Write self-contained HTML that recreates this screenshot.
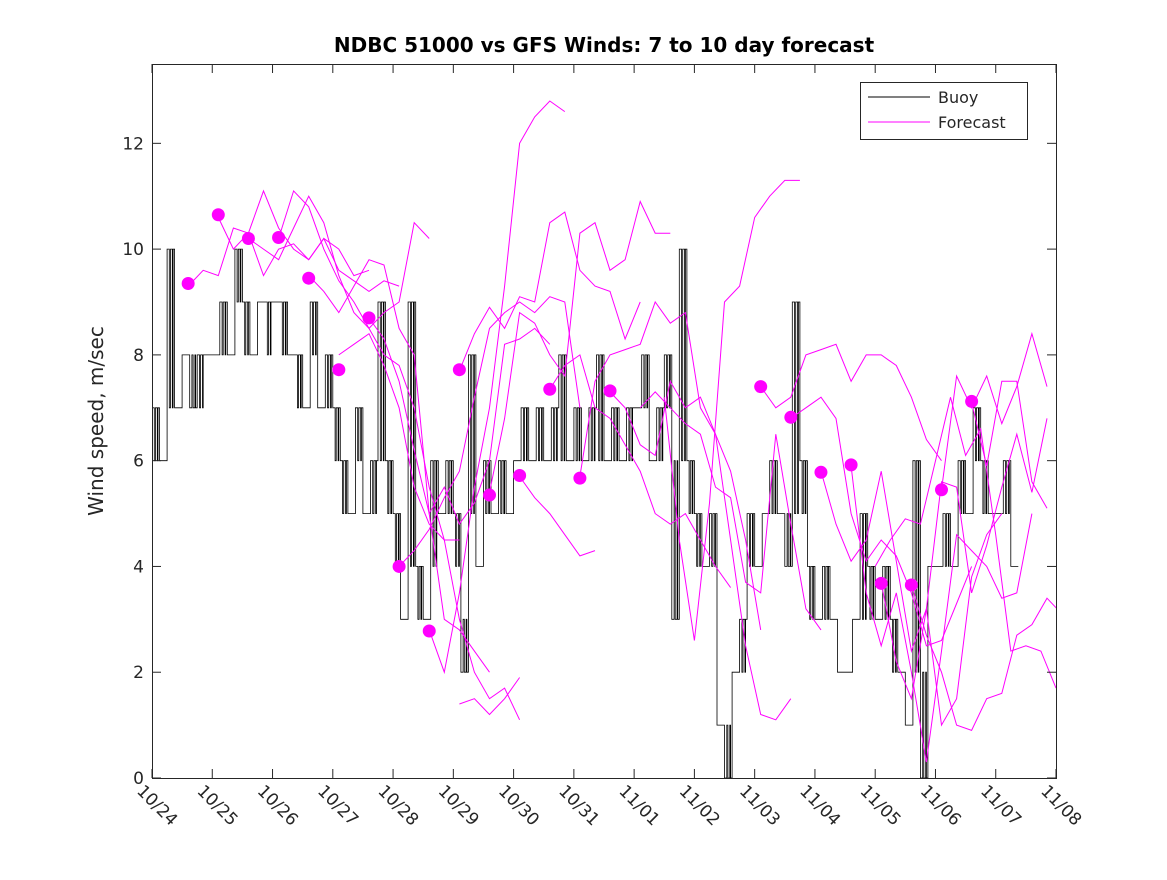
<!DOCTYPE html>
<html><head><meta charset="utf-8"><style>
html,body{margin:0;padding:0;background:#fff}
svg text{font-family:"DejaVu Sans","Liberation Sans",sans-serif;fill:#262626}
</style></head><body>
<svg id="chart" width="1167" height="875" xmlns="http://www.w3.org/2000/svg">
<defs><clipPath id="pc"><rect x="152" y="64" width="904" height="714"/></clipPath></defs>
<rect x="0" y="0" width="1167" height="875" fill="#fff"/>
<text x="604" y="52" text-anchor="middle" font-size="20" font-weight="bold" style="fill:#000">NDBC 51000 vs GFS Winds: 7 to 10 day forecast</text>
<text transform="translate(103,421) rotate(-90)" text-anchor="middle" font-size="20">Wind speed, m/sec</text>
<g id="plot" clip-path="url(#pc)"></g>
<g id="axes"></g>
<rect x="152.5" y="64.5" width="904" height="714" fill="none" stroke="#262626" stroke-width="1"/>
<g>
<rect x="860.5" y="82.5" width="167" height="57" fill="#fff" stroke="#262626"/>
<line x1="868" y1="97" x2="930" y2="97" stroke="#000"/>
<text x="938" y="103" font-size="16">Buoy</text>
<line x1="868" y1="122" x2="930" y2="122" stroke="#f0f"/>
<text x="938" y="128" font-size="16">Forecast</text>
</g>
</svg>
<script>
const xTickLabels=["10/24","10/25","10/26","10/27","10/28","10/29","10/30","10/31","11/01","11/02","11/03","11/04","11/05","11/06","11/07","11/08"];
const yTicks=[0,2,4,6,8,10,12];
const buoyStepsPerDay=8;
const buoy=[7,6,10,7,8,7,8,8, 8,9,8,10,9,8,9,9, 9,9,8,8,7,9,7,8, 7,6,5,7,5,6,9,6, 5,3,9,4,3,6,5,6, 5,2,8,4,6,5,6,5, 6,7,6,7,6,7,8,6, 7,6,7,8,6,7,6,7, 7,8,6,7,8,3,10,6, 5,4,5,1,0,2,3,5, 4,5,6,5,4,9,6,4, 3,4,3,2,2,3,5,4, 3,4,3,2,1,6,0,4, 4,5,4,6,5,7,6,5, 5,6,4];
const buoyLow=[6,6,7,7,8,8,7,8, 8,8,8,9,8,8,9,8, 9,8,8,7,7,8,7,7, 6,5,5,6,5,5,6,5, 4,3,4,3,3,4,5,5, 4,3,5,4,5,5,5,5, 6,6,6,6,6,6,6,6, 6,6,6,6,6,6,6,6, 7,7,6,6,7,6,6,5, 4,4,4,1,1,2,2,4, 4,5,5,5,5,5,5,3, 3,3,3,2,2,3,3,3, 3,3,2,2,1,2,2,4, 4,4,4,5,5,6,5,5, 5,5,4];
const dotDays=[0.6,1.1,1.6,2.1,2.6,3.1,3.6,4.1,4.6,5.1,5.6,6.1,6.6,7.1,7.6,10.1,10.6,11.1,11.6,12.1,12.6,13.1,13.6];
const dotVals=[9.35,10.65,10.2,10.22,9.45,7.72,8.7,4.0,2.78,7.72,5.35,5.72,7.35,5.67,7.32,7.4,6.82,5.78,5.92,3.68,3.65,5.45,7.12];
const fcStarts=[0.6,1.1,1.6,2.1,2.6,3.1,3.6,4.1,4.6,5.1,5.1,5.6,6.1,6.6,7.1,7.6,8.1,8.5,10.1,10.6,11.1,11.6,12.0,12.1,12.6,13.1,13.6];
const fcVals=[
[9.3,9.6,9.5,10.4,10.3,9.5,10,10.1,9.8,10.2,10,9.5,9.6],
[10.6,10,10.3,11.1,10.4,10,9.8,10.2,9.6,9.4,9.2,9.4,9.3],
[10.2,10,9.8,10.4,11,10.5,9.5,8.8,8.5,8.8,9,10.5,10.2],
[10.2,11.1,10.8,10,9.4,9,8.5,8,7.8,7,5.5,4.5,4.5],
[9.5,9.2,8.8,9.3,9.8,9.7,8.5,8,5,3,2.8,2.4,2],
[8,8.2,8.4,7.8,7,5.5,4.8,4.5,3,2,1.5,1.7,1.1],
[8.7,8.3,7.5,6.2,5,5.5,4.8,5.2,6,8.2,8.3,8.5,8.2],
[4,4.3,4.7,5.3,5.8,7.2,8.5,8.8,9,8.8,9.1,9,7],
[2.8,2,3.5,5.5,7,9.3,12,12.5,12.8,12.6],
[7.7,8.4,8.9,8.5,9.1,9,10.5,10.7,9.6,9.3,9.2,8.3,9],
[1.4,1.5,1.2,1.5,1.9],
[5.4,6.8,8.8,8.6,8,7.6,10.3,10.5,9.6,9.8,10.9,10.3,10.3],
[5.7,5.3,5,4.6,4.2,4.3],
[7.35,7.8,8,7,6.8,6.3,5.8,5,4.8,5,4.5,4,3.6],
[5.7,7.5,8,8.1,8.2,9,8.6,8.8,7,6.5,5.8,4.5,2.8],
[7.3,7,6.3,6.1,7.5,7,7.2,6.5,4.5,2.5,1.2,1.1,1.5],
[7,7.3,7,6.7,6.5,5.5,5.3,3.7,3.5,6.5,4.8,3.2,2.8],
[7.2,4.5,2.6,5.2,9,9.3,10.6,11,11.3,11.3],
[7.4,7,7.2,8,8.1,8.2,7.5,8,8,7.8,7.2,6.4,6],
[6.8,7,7.2,6.8,5,4.1,4.5,4.2,3.5,2.5,2.6,3.3,4],
[5.8,4.8,4.1,4.5,5.8,4.1,2.4,3.2,1,1.5,3.8,4.6,5],
[5.9,3.5,2.5,3.5,2,0.3,2.4,4.6,4.3,4,3.4,3.5,5],
[4,4.5,4.9,4.8,6,7.2,6.1,6.6,4.6,2.4,2.5,2.4,1.7],
[3.7,2.2,1.5,3.2,5.6,5.5,3.5,4.4,5.5,6.5,5.4,6.8],
[3.65,2.7,2,1,0.9,1.5,1.6,2.7,2.9,3.4,3.1,3.6],
[5.45,7.6,7,7.6,6.7,7.4,8.4,7.4],
[7.1,5.9,7.5,7.5,5.6,5.1]
];
const X0=152,X1=1056,Y0=778,Y1=64,DAYS=15,YMAX=13.5;
const sx=d=>X0+(X1-X0)*d/DAYS;
const sy=v=>Y0-(Y0-Y1)*v/YMAX;
const NS="http://www.w3.org/2000/svg";
const svg=document.getElementById('chart');
const plot=document.getElementById('plot');
const axes=document.getElementById('axes');
function mk(tag,attrs,parent){const e=document.createElementNS(NS,tag);for(const k in attrs)e.setAttribute(k,attrs[k]);(parent||plot).appendChild(e);return e;}
xTickLabels.forEach((lab,i)=>{
  const x=sx(i);
  const t=mk('line',{x1:x,y1:Y0,x2:x,y2:Y0-9,stroke:'#262626'},axes);
  
  
  mk('line',{x1:x,y1:Y1,x2:x,y2:Y1+9,stroke:'#262626'},axes);
  const tx=mk('text',{x:0,y:0,'font-size':'17',transform:`translate(${x-16},${Y0+14}) rotate(45)`},svg);
  tx.textContent=lab;
  
  
});
yTicks.forEach(v=>{
  const y=sy(v);
  const t=mk('line',{x1:X0,y1:y,x2:X0+9,y2:y,stroke:'#262626'},axes);
  
  
  mk('line',{x1:X1,y1:y,x2:X1-9,y2:y,stroke:'#262626'},axes);
  const tx=mk('text',{x:X0-8,y:y+6,'text-anchor':'end','font-size':'17'},svg);
  tx.textContent=v;
  
  
});
let d='';
const dt=1/buoyStepsPerDay;
const fr=[0.3,0.45,0.7,0.8];
buoy.forEach((v,i)=>{
  const t0=i*dt, lo=buoyLow[i];
  let cur=v;
  d+=(i===0?'M':'L')+sx(t0).toFixed(1)+','+sy(cur).toFixed(1);
  fr.forEach(f=>{
    const x=sx(t0+dt*f).toFixed(1);
    d+='L'+x+','+sy(cur).toFixed(1);
    cur=(cur===v)?lo:v;
    d+='L'+x+','+sy(cur).toFixed(1);
  });
  d+='L'+sx(t0+dt).toFixed(1)+','+sy(cur).toFixed(1);
});
const bl=mk('path',{d:d,fill:'none',stroke:'#000','stroke-width':'0.8'});


fcStarts.forEach((s,i)=>{
  const p=fcVals[i].map((v,j)=>(j?'L':'M')+sx(s+j*0.25).toFixed(1)+','+sy(v).toFixed(1)).join('');
  const e=mk('path',{d:p,fill:'none',stroke:'#f0f','stroke-width':'1'});
  
  
});
dotDays.forEach((t,i)=>{
  const c=mk('circle',{cx:sx(t),cy:sy(dotVals[i]),r:6.5,fill:'#f0f'});
  
  
});
</script>
</body></html>
